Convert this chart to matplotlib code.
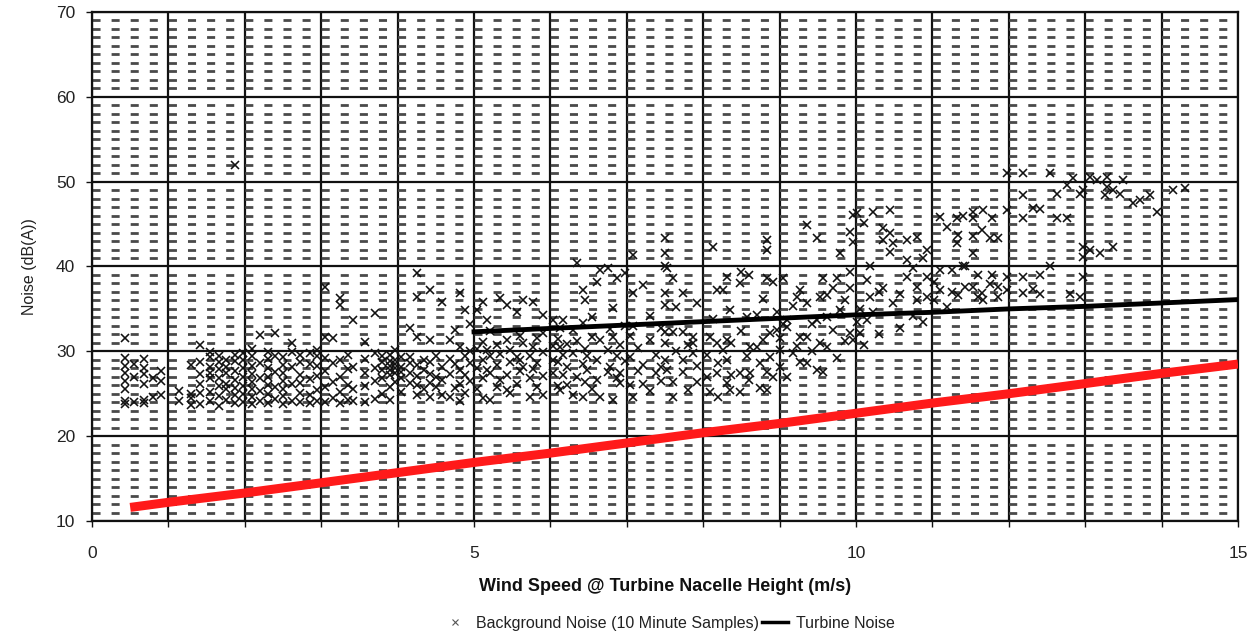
import matplotlib
matplotlib.use("Agg")
import matplotlib.pyplot as plt
from matplotlib.ticker import MultipleLocator
from matplotlib.lines import Line2D

plt.rcParams['lines.scale_dashes'] = False
plt.rcParams['font.family'] = ['Liberation Sans', 'DejaVu Sans']

# ---- data ----
# Background noise samples: wind-speed columns and the noise values read in each column
bg_speed = [
    0.43, 0.55, 0.68, 0.80, 0.90,
    1.14, 1.30, 1.42, 1.55, 1.66, 1.75, 1.87, 1.97,
    2.10, 2.20, 2.30, 2.40, 2.50, 2.62, 2.72, 2.85, 2.95,
    3.05, 3.15, 3.25, 3.35, 3.42, 3.57, 3.70, 3.80, 3.90, 3.97,
    4.05, 4.16, 4.25, 4.35, 4.42, 4.50, 4.58, 4.69, 4.75, 4.82, 4.88, 4.95,
    5.04, 5.12, 5.17, 5.21, 5.30, 5.34, 5.43, 5.47, 5.56, 5.60, 5.64, 5.73, 5.77, 5.82, 5.90,
    6.03, 6.10, 6.13, 6.17, 6.22, 6.30, 6.35, 6.43, 6.45, 6.48, 6.54, 6.61, 6.65, 6.75, 6.78,
    6.82, 6.87, 6.91, 6.98,
    7.04, 7.08, 7.15, 7.21, 7.30, 7.38, 7.45, 7.50, 7.53, 7.60, 7.65, 7.74, 7.80, 7.87, 7.92,
    8.05, 8.09, 8.13, 8.18, 8.20, 8.26, 8.31, 8.35, 8.37, 8.48, 8.50, 8.57, 8.60, 8.61, 8.70,
    8.74, 8.78, 8.83, 8.87, 8.91, 8.97,
    9.00, 9.04, 9.10, 9.17, 9.23, 9.27, 9.36, 9.43, 9.49, 9.53, 9.57, 9.62, 9.70, 9.75, 9.79,
    9.85, 9.92, 9.96,
    10.01, 10.05, 10.10, 10.14, 10.18, 10.22, 10.30, 10.35, 10.45, 10.49, 10.58, 10.67, 10.75,
    10.80, 10.88, 10.93,
    11.02, 11.10, 11.19, 11.25, 11.32, 11.33, 11.40, 11.43, 11.53, 11.60, 11.65, 11.66, 11.75,
    11.78, 11.86, 11.98,
    12.19, 12.32, 12.41, 12.54, 12.63, 12.76, 12.80, 12.84, 12.93, 12.97, 13.06, 13.15, 13.19,
    13.26, 13.28, 13.36, 13.46, 13.50, 13.63, 13.72, 13.85, 13.94, 14.15, 14.30,
]
bg_noise = [
    [23.8, 24.2, 25.6, 26.5, 27.4, 28.3, 29.2, 31.6], [24.0, 27.0, 28.5],
    [23.9, 24.3, 26.2, 27.3, 28.0, 29.1], [24.6, 26.8], [24.9, 26.5, 27.7],
    [24.2, 25.3], [23.7, 24.5, 25.0, 28.4], [23.8, 25.1, 26.2, 27.3, 28.7, 30.8],
    [24.1, 25.2, 26.9, 27.5, 28.2, 29.3, 29.9], [23.6, 24.7, 25.9, 26.8, 27.9, 28.8, 29.5],
    [24.3, 25.5, 26.2, 27.4, 28.1, 29.0], [23.9, 24.8, 25.7, 26.6, 27.7, 28.9, 29.6, 52.0],
    [24.0, 25.0, 25.9, 27.0, 28.0, 29.0, 29.8],
    [23.8, 24.6, 25.5, 26.4, 27.3, 28.3, 29.4, 30.3], [24.1, 25.3, 26.8, 28.6, 31.9],
    [23.9, 25.0, 26.0, 27.0, 28.0, 29.1, 29.9], [24.4, 25.8, 27.6, 29.5, 32.2],
    [23.8, 24.7, 25.6, 26.5, 27.5, 28.4, 29.3], [24.2, 26.1, 28.1, 29.9, 31.0],
    [24.0, 25.1, 26.3, 27.2, 28.8, 29.6], [23.9, 24.9, 26.7, 28.5, 29.8],
    [24.1, 25.4, 27.1, 28.3, 29.4, 30.1],
    [24.0, 25.8, 27.7, 29.2, 31.7, 37.6], [24.5, 26.4, 28.6, 31.6],
    [23.9, 25.2, 27.0, 29.0, 35.5, 36.3], [24.3, 26.0, 27.9, 29.6], [24.1, 25.5, 28.2, 33.7],
    [24.0, 25.9, 27.4, 29.1, 31.1], [24.4, 26.5, 28.0, 29.8, 34.5],
    [25.0, 26.9, 27.8, 28.7, 29.5], [24.3, 25.8, 27.2, 27.8, 28.3, 28.9, 29.6],
    [26.4, 27.5, 28.0, 28.5, 29.0, 30.2],
    [25.2, 26.8, 27.6, 28.2, 29.3], [26.3, 27.5, 28.6, 29.3, 32.7],
    [24.8, 26.0, 27.1, 28.4, 31.7, 36.4, 39.2], [25.5, 27.8, 29.0],
    [24.6, 26.3, 27.3, 28.8, 31.3, 37.2], [25.8, 27.0, 29.5], [24.9, 26.6, 28.2, 35.8],
    [24.6, 27.3, 29.1, 31.3], [25.7, 28.5, 32.5], [24.2, 26.1, 27.8, 30.5, 36.9],
    [25.1, 27.2, 29.4, 34.9], [26.5, 28.6, 30.0, 33.2],
    [25.5, 28.0, 30.3, 34.9], [24.5, 26.9, 29.0, 31.1, 35.8], [27.8, 30.2, 33.7],
    [24.3, 27.5, 29.5, 32.4], [25.8, 28.4, 30.8], [26.6, 29.7, 36.3],
    [25.4, 27.2, 31.3, 35.5], [25.1, 28.8, 30.2], [26.2, 29.3, 34.6], [27.7, 29.0, 31.8],
    [28.2, 31.0, 36.1], [24.6, 26.9, 29.4], [27.9, 30.5, 35.8], [25.8, 28.6, 31.6],
    [24.9, 27.1, 29.9, 32.2, 34.3],
    [27.5, 29.0, 30.6, 33.7], [25.9, 28.7, 31.4], [25.4, 30.5, 32.8], [27.2, 29.6, 33.7],
    [26.0, 28.2, 30.9], [24.8, 29.8, 32.5], [27.0, 31.2, 40.4], [24.6, 28.5, 33.3, 37.2],
    [26.4, 30.3, 36.1], [27.8, 29.4], [25.6, 31.7, 34.0], [26.6, 29.0, 38.2],
    [24.6, 31.3, 39.6], [27.6, 30.1, 39.8], [28.2, 32.6],
    [24.3, 31.7, 35.1], [26.9, 29.5, 38.7], [26.3, 27.5, 30.8], [28.9, 33.0, 39.2],
    [26.0, 29.3, 31.8], [24.6, 33.0, 36.9, 41.4], [27.7, 30.4], [26.1, 28.4, 37.8],
    [25.3, 31.3, 34.2], [27.4, 29.6], [26.5, 28.2, 32.7],
    [29.0, 31.0, 32.3, 35.5, 36.9, 40.0, 41.6, 43.4], [27.8, 39.8], [24.6, 26.4, 32.3, 38.6],
    [30.0, 35.2], [27.6, 29.0, 32.3, 36.9], [25.4, 30.8], [29.8, 31.0, 31.7],
    [26.4, 28.3, 35.7],
    [27.0, 29.6], [25.2, 31.7], [33.8, 42.3], [27.5, 31.0, 37.2], [24.6, 28.6], [30.2, 37.2],
    [26.3, 29.0, 31.3, 38.8], [25.4, 34.9], [27.2, 31.0], [25.2, 27.5, 38.1], [32.4, 39.4],
    [29.4, 34.1], [26.6, 39.0], [27.5, 30.5], [30.5, 34.3],
    [25.7, 28.6], [31.3, 36.2], [25.4, 27.6, 38.7, 42.0, 43.1], [29.3, 32.2], [27.0, 38.2],
    [32.5, 34.6],
    [28.2, 30.2, 31.6], [33.2, 38.7], [27.0, 32.9, 33.7], [29.8, 35.4], [30.6, 36.4],
    [28.7, 31.7, 37.2], [28.6, 31.7, 35.7, 44.9], [30.0, 33.2], [27.8, 33.7, 43.4],
    [31.0, 36.4], [27.6, 38.7], [30.5, 34.0, 36.6], [32.5, 37.5], [29.2, 38.7], [34.9, 41.6],
    [31.2, 36.0], [32.2, 37.5, 39.4, 44.1], [31.3, 42.9, 46.1],
    [33.5, 46.3], [32.2, 35.0], [30.8, 45.1], [33.7, 38.4], [36.4, 40.0], [34.6, 46.4],
    [32.0, 37.0], [37.5, 43.1, 44.5], [41.7, 44.0, 46.7], [35.7, 42.8], [32.8, 36.8],
    [38.8, 40.8, 43.1], [34.2, 39.8],
    [36.1, 37.6, 43.5], [33.5, 41.0], [36.4, 38.8, 42.0],
    [36.0, 38.2], [37.2, 39.6, 45.8], [35.2, 44.7], [37.0, 39.6], [42.8, 45.7], [36.6, 43.7],
    [40.0, 45.9], [37.6, 40.0], [37.6, 41.6, 43.6, 45.7, 46.4], [36.4, 39.0], [36.9, 44.3],
    [36.1, 46.7], [37.9, 43.4],
    [39.0, 45.7], [36.4, 37.6, 43.4], [37.2, 38.8, 46.7, 51.0],
    [36.9, 38.8, 45.7, 48.4, 51.0], [37.4, 46.9], [36.7, 39.0, 46.8], [40.0, 51.0],
    [45.7, 48.6], [45.7, 49.6], [36.7], [50.4], [36.4, 48.6], [38.8, 41.1, 42.3, 49.0],
    [42.0, 50.6], [50.2], [41.6],
    [48.4], [49.4, 50.6], [42.3, 49.0], [48.6], [50.2], [47.5], [47.8], [48.4], [46.4],
    [49.0], [49.3],
]

turbine_speed = [5, 6, 7, 8, 9, 10, 11, 12, 13, 14, 15]
turbine_noise = [32.3, 32.7, 33.1, 33.5, 33.9, 34.3, 34.6, 35.0, 35.3, 35.7, 36.1]

red_speed = [0.5, 1, 2, 3, 4, 5, 6, 7, 8, 9, 10, 11, 12, 13, 14, 15]
red_noise = [11.6, 12.2, 13.3, 14.5, 15.7, 16.9, 18.0, 19.2, 20.4, 21.5, 22.7, 23.9,
             25.0, 26.2, 27.4, 28.5]

x_ticks = [0, 5, 10, 15]
y_ticks = [10, 20, 30, 40, 50, 60, 70]

# ---- expand columns ----
pts_x, pts_y = [], []
for s, vals in zip(bg_speed, bg_noise):
    for v in vals:
        pts_x.append(s)
        pts_y.append(v)

fig = plt.figure(figsize=(12.5, 6.42), dpi=100)
ax = fig.add_axes([0.0736, 0.1885, 0.9168, 0.7928])

ax.set_xlim(0, 15)
ax.set_ylim(10, 70)
ax.xaxis.set_major_locator(MultipleLocator(5))
ax.xaxis.set_minor_locator(MultipleLocator(1))
ax.yaxis.set_major_locator(MultipleLocator(10))
ax.yaxis.set_minor_locator(MultipleLocator(1))
ax.set_xticks(x_ticks)
ax.set_yticks(y_ticks)

# grid
ax.grid(which='major', axis='both', color='#111111', linewidth=1.6, linestyle='-')
ax.grid(which='minor', axis='x', color='#111111', linewidth=1.6, linestyle='-')
ax.grid(which='minor', axis='y', color='#4a4a4a', linewidth=2.0,
        linestyle=(0, (5.8, 7.95)))
ax.set_axisbelow(True)

for sp in ax.spines.values():
    sp.set_color('#111111')
    sp.set_linewidth(1.6)

ax.tick_params(axis='x', which='both', direction='out', length=4, width=1, colors='#111111',
               labelcolor='#222222', labelsize=12.5, pad=14)
ax.tick_params(axis='y', which='major', direction='out', length=4, width=1, colors='#111111',
               labelcolor='#222222', labelsize=12.5, pad=8)
ax.tick_params(axis='y', which='minor', length=0)

# data
ax.plot(pts_x, pts_y, linestyle='none', marker='x', markersize=6, markeredgewidth=1.15,
        color='#111111', zorder=3)
ax.plot(turbine_speed, turbine_noise, color='black', linewidth=3.5, zorder=4)
ax.plot(red_speed, red_noise, color='#ff1a1a', linewidth=6.5, solid_capstyle='butt', zorder=5)

ax.set_xlabel('Wind Speed @ Turbine Nacelle Height (m/s)', fontsize=13, fontweight='bold',
              color='#111111', labelpad=12)
ax.set_ylabel('Noise (dB(A))', fontsize=11.5, color='#222222', labelpad=14)

handles = [
    Line2D([], [], linestyle='none', marker='x', markersize=5, markeredgewidth=0.8,
           color='#555555', label='Background Noise (10 Minute Samples)'),
    Line2D([], [], color='black', linewidth=2.5, label='Turbine Noise'),
]
fig.legend(handles=handles, loc='lower center', bbox_to_anchor=(0.535, -0.005), ncol=2,
           frameon=False, fontsize=11.5, handlelength=1.6, handletextpad=0.5,
           columnspacing=0.2, labelcolor='#222222')

fig.savefig('out.png', dpi=100)
